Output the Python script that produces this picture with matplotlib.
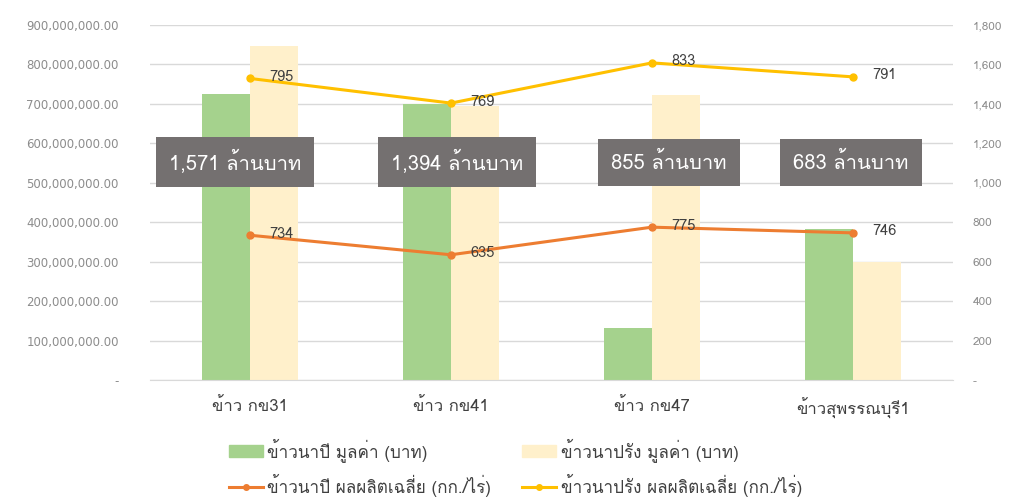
import numpy as np
import matplotlib
matplotlib.use("Agg")
import matplotlib.pyplot as plt
from matplotlib import font_manager as fm
from matplotlib.ft2font import FT2Font
from matplotlib.patches import Patch
from matplotlib.lines import Line2D
from matplotlib.ticker import FuncFormatter, MultipleLocator

# ---------------- data ----------------
categories = ["ข้าว กข31", "ข้าว กข41", "ข้าว กข47", "ข้าวสุพรรณบุรี1"]
value_napi = [725e6, 700e6, 132e6, 384e6]        # ข้าวนาปี มูลค่า (บาท)
value_naprang = [846e6, 694e6, 723e6, 299e6]     # ข้าวนาปรัง มูลค่า (บาท)
yield_napi = [734, 635, 775, 746]                # ข้าวนาปี ผลผลิตเฉลี่ย (กก./ไร่)
yield_naprang = [795, 769, 833, 791]             # ข้าวนาปรัง ผลผลิตเฉลี่ย (กก./ไร่)
totals = ["1,571", "1,394", "855", "683"]        # ล้านบาท
series_names = ["ข้าวนาปี มูลค่า (บาท)", "ข้าวนาปรัง มูลค่า (บาท)",
                "ข้าวนาปี ผลผลิตเฉลี่ย (กก./ไร่)", "ข้าวนาปรัง ผลผลิตเฉลี่ย (กก./ไร่)"]

# ---------------- fonts ----------------
def find_thai_fonts():
    names = []
    for f in fm.fontManager.ttflist:
        try:
            cm = FT2Font(f.fname).get_charmap()
            if 0x0E01 in cm and 0x0E49 in cm:
                if f.name not in names:
                    names.append(f.name)
        except Exception:
            pass
    return names

thai = find_thai_fonts()
fam = thai + ["DejaVu Sans"]
plt.rcParams["font.family"] = fam

# ---------------- figure ----------------
fig = plt.figure(figsize=(10.24, 5.01), dpi=100)
ax = fig.add_axes([0.146, 0.2415, 0.785, 0.7086])
ax2 = ax.twinx()

x = np.arange(len(categories))
w = 0.24
c_green = "#A5D28D"
c_cream = "#FFF0CB"
c_orange = "#ED7D31"
c_gold = "#FFC000"
grid_c = "#D9D9D9"
tick_c = "#8C8C8C"

ax.set_axisbelow(True)
ax.bar(x - w / 2, value_napi, width=w, color=c_green, zorder=2)
ax.bar(x + w / 2, value_naprang, width=w, color=c_cream, zorder=2)
ax.set_xlim(-0.5, len(categories) - 0.5)
ax.set_ylim(0, 900e6)
ax.yaxis.set_major_locator(MultipleLocator(100e6))
ax.yaxis.grid(True, color=grid_c, linewidth=1)
ax.yaxis.set_major_formatter(FuncFormatter(lambda v, p: "-" if v == 0 else f"{v:,.2f}"))
for s in ["top", "right", "left"]:
    ax.spines[s].set_visible(False)
    ax2.spines[s].set_visible(False)
ax2.spines["bottom"].set_visible(False)
ax.spines["bottom"].set_color(grid_c)
ax.tick_params(axis="y", length=0, colors=tick_c, labelsize=8.5, pad=22)
ax.tick_params(axis="x", length=0, labelsize=12, labelcolor="#404040", pad=13)
ax.set_xticks(x)
ax.set_xticklabels(categories)
for t in ax.get_yticklabels():
    t.set_family(["DejaVu Sans"])

# stacked lines on right axis
cum_napi = np.array(yield_napi)
cum_naprang = cum_napi + np.array(yield_naprang)
ax2.set_ylim(0, 1800)
ax2.yaxis.set_major_locator(MultipleLocator(200))
ax2.yaxis.set_major_formatter(FuncFormatter(lambda v, p: "-" if v == 0 else f"{v:,.0f}"))
ax2.tick_params(axis="y", length=0, colors=tick_c, labelsize=8.5, pad=14)
ax2.plot(x, cum_napi, color=c_orange, lw=2.2, marker="o", ms=5, zorder=5)
ax2.plot(x, cum_naprang, color=c_gold, lw=2.2, marker="o", ms=5, zorder=5)
for xi, yi, v in zip(x, cum_napi, yield_napi):
    ax2.annotate(f"{v}", (xi, yi), xytext=(14, 1), textcoords="offset points",
                 fontsize=10.5, color="#404040", va="center", ha="left", zorder=6)
for xi, yi, v in zip(x, cum_naprang, yield_naprang):
    ax2.annotate(f"{v}", (xi, yi), xytext=(14, 1), textcoords="offset points",
                 fontsize=10.5, color="#404040", va="center", ha="left", zorder=6)

# total boxes
box_offsets = [-0.075, 0.03, 0.085, -0.01]
for xi, off, t in zip(x, box_offsets, totals):
    ax2.text(xi + off, 1104, f"{t} ล้านบาท", ha="center", va="center",
             fontsize=14.5, color="white", zorder=7,
             bbox=dict(boxstyle="square,pad=0.65", fc="#747070", ec="none"))

# legend
handles = [Patch(color=c_green),
           Line2D([0], [0], color=c_orange, lw=2.2, marker="o", ms=4),
           Patch(color=c_cream),
           Line2D([0], [0], color=c_gold, lw=2.2, marker="o", ms=4)]
labels = [series_names[0], series_names[2], series_names[1], series_names[3]]
fig.legend(handles, labels, ncol=2, loc="upper left", bbox_to_anchor=(0.212, 0.149),
           frameon=False, fontsize=12.3, labelspacing=0.7, columnspacing=1.8,
           handlelength=2.0, handletextpad=0.25, labelcolor="#404040",
           borderpad=0.2)

fig.savefig("out.png", dpi=100)
